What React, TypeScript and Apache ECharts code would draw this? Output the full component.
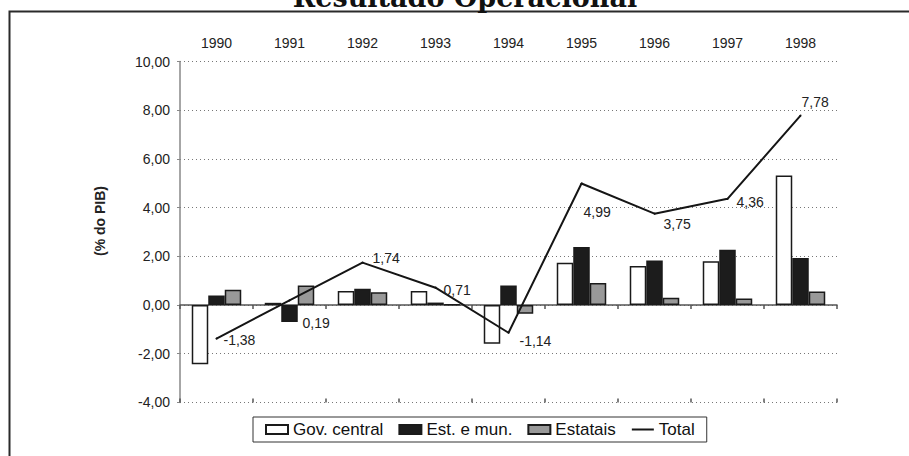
import React, { useEffect, useRef } from "react";
import * as echarts from "echarts";

const years = ["1990", "1991", "1992", "1993", "1994", "1995", "1996", "1997", "1998"];
const govCentral = [-2.43, 0.09, 0.57, 0.57, -1.59, 1.74, 1.6, 1.8, 5.32];
const estMun = [0.39, -0.7, 0.67, 0.1, 0.8, 2.38, 1.83, 2.27, 1.93];
const estatais = [0.63, 0.8, 0.52, 0.03, -0.36, 0.9, 0.3, 0.27, 0.55];
const total = [-1.38, 0.19, 1.74, 0.71, -1.14, 4.99, 3.75, 4.36, 7.78];
const labelOffsets: [number, number][] = [
  [1, 1], [7, 23], [4, -5], [2, 2], [5, 8], [-4, 29], [3, 10], [3, 3], [-5, -14],
];

const fmt = (v: number) => v.toFixed(2).replace(".", ",");

export default function App() {
  const ref = useRef<HTMLDivElement>(null);
  useEffect(() => {
    if (!ref.current) return;
    const chart = echarts.init(ref.current, null, { renderer: "svg" });
    const font = "Liberation Sans";
    const barBorder = { borderColor: "#1a1a1a", borderWidth: 1.5 };
    chart.setOption({
      animation: false,
      backgroundColor: "#ffffff",
      textStyle: { fontFamily: font },
      grid: { left: 180, right: 72, top: 61.5, bottom: 53.6, containLabel: false },
      graphic: [
        {
          type: "rect",
          shape: { x: 9.5, y: 11.5, width: 1000, height: 1000 },
          style: { fill: "none", stroke: "#2a2a2a", lineWidth: 2 },
          silent: true,
        },
        {
          type: "text",
          x: 465,
          y: -3,
          style: {
            text: "Resultado Operacional",
            font: "bold 27px 'DejaVu Serif'",
            fill: "#111",
            align: "center",
            verticalAlign: "middle",
          },
        },
        {
          type: "text",
          x: 100,
          y: 221,
          rotation: Math.PI / 2,
          style: {
            text: "(% do PIB)",
            font: "bold 14px 'Liberation Sans'",
            fill: "#222",
            align: "center",
            verticalAlign: "middle",
          },
        },
      ],
      legend: {
        left: 253,
        top: 417,
        padding: [4, 12, 4, 12],
        borderColor: "#333",
        borderWidth: 1,
        itemWidth: 22,
        itemHeight: 9,
        itemGap: 15,
        textStyle: { fontSize: 17, color: "#111", fontFamily: font },
        data: [
          { name: "Gov. central", icon: "rect" },
          { name: "Est. e mun.", icon: "rect" },
          { name: "Estatais", icon: "rect" },
          { name: "Total", itemStyle: { opacity: 0 } },
        ],
      },
      xAxis: [
        {
          type: "category",
          data: years,
          position: "bottom",
          axisLine: { onZero: true, lineStyle: { color: "#555", width: 1.5 } },
          axisTick: { show: true, length: 4, lineStyle: { color: "#555", width: 1.5 } },
          axisLabel: { show: false },
          splitLine: { show: false },
        },
        {
          type: "category",
          data: years,
          position: "top",
          axisLine: { show: false, onZero: false },
          axisTick: { show: false },
          axisLabel: { show: true, fontSize: 14, color: "#222", margin: 12, fontFamily: font },
          splitLine: { show: false },
        },
        {
          type: "category",
          data: years,
          position: "bottom",
          axisLine: { show: false, onZero: true },
          axisTick: { show: true, inside: true, length: 4, lineStyle: { color: "#555", width: 1.5 } },
          axisLabel: { show: false },
          splitLine: { show: false },
        },
      ],
      yAxis: {
        type: "value",
        min: -4,
        max: 10,
        interval: 2,
        axisLine: { show: true, lineStyle: { color: "#888", width: 1.5 } },
        axisTick: { show: true, length: 3, lineStyle: { color: "#888" } },
        axisLabel: {
          fontSize: 14,
          color: "#222",
          margin: 10,
          fontFamily: font,
          formatter: (v: number) => fmt(v),
        },
        splitLine: { show: true, lineStyle: { type: [1, 3], color: "#777", width: 1 } },
      },
      series: [
        {
          name: "Gov. central",
          type: "bar",
          data: govCentral,
          barWidth: 16.5,
          barGap: "0%",
          itemStyle: { color: "#ffffff", ...barBorder },
        },
        {
          name: "Est. e mun.",
          type: "bar",
          data: estMun,
          barWidth: 16.5,
          barGap: "0%",
          itemStyle: { color: "#1c1c1c", ...barBorder },
        },
        {
          name: "Estatais",
          type: "bar",
          data: estatais,
          barWidth: 16.5,
          barGap: "0%",
          itemStyle: { color: "#999999", ...barBorder },
        },
        {
          name: "Total",
          type: "line",
          data: total.map((v, i) => ({
            value: v,
            label: { offset: labelOffsets[i] },
          })),
          symbol: "circle",
          symbolSize: 2,
          showSymbol: true,
          z: 5,
          lineStyle: { color: "#151515", width: 2 },
          itemStyle: { color: "#151515" },
          label: {
            show: true,
            position: "right",
            distance: 5,
            fontSize: 14,
            color: "#222",
            fontFamily: font,
            formatter: (p: any) => fmt(p.value),
          },
        },
      ],
    });
    return () => chart.dispose();
  }, []);
  return <div ref={ref} style={{ width: 909, height: 456, position: "absolute", left: 0, top: 0 }} />;
}
